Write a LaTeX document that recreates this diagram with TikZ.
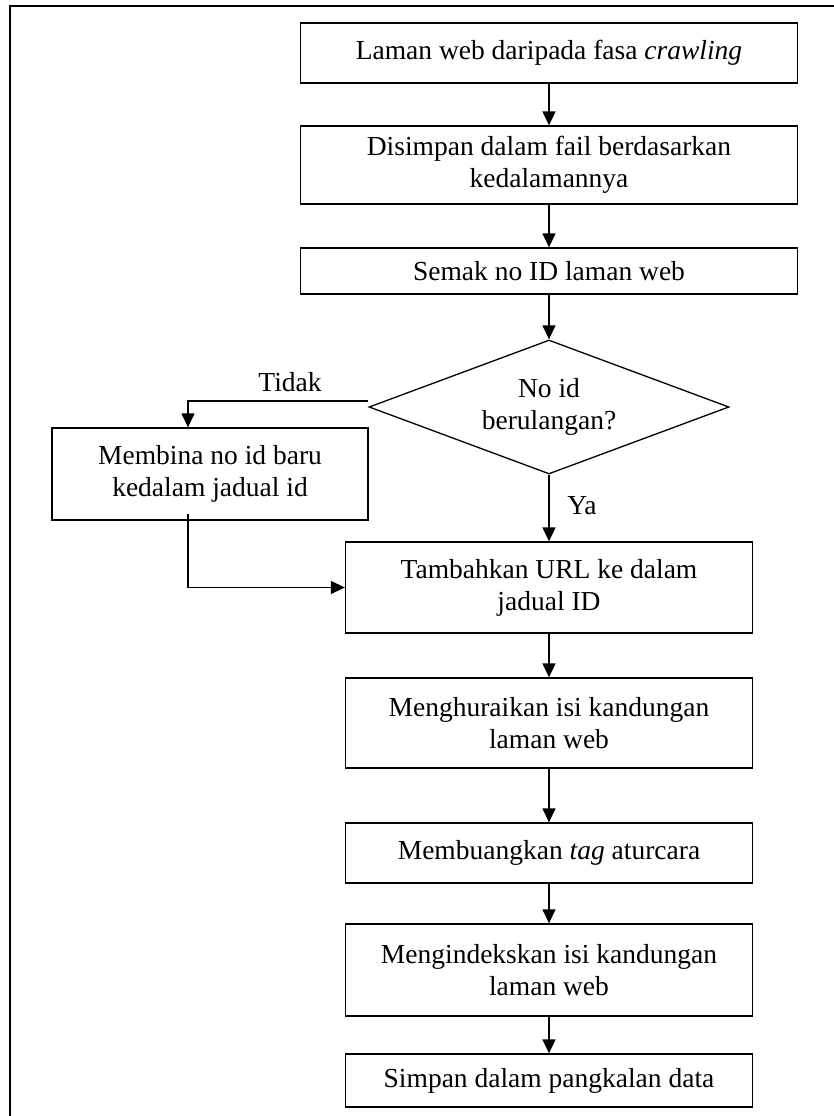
\documentclass[tikz,border=0pt]{standalone}
\usepackage{fontspec}
\setmainfont{Liberation Serif}
\usetikzlibrary{positioning,arrows.meta,shapes.geometric}

\tikzset{
  box/.style={draw, rectangle, line width=1.3pt, inner sep=2pt, align=center,
    font=\fontsize{27.5}{32}\selectfont},
  wide/.style={box, minimum width=497pt},
  narrow/.style={box, minimum width=407pt},
  decide/.style={draw, diamond, line width=1.3pt, inner sep=0pt, aspect=2.69,
    minimum width=360pt, minimum height=134pt, align=center,
    font=\fontsize{27.5}{32}\selectfont},
  lbl/.style={font=\fontsize{27.5}{32}\selectfont},
  arr/.style={line width=1.3pt, -{Triangle[length=14pt,width=13pt]}}
}

\begin{document}
\begin{tikzpicture}[x=1pt, y=-1pt]
        \useasboundingbox (0,0) rectangle (834,1116);
        % outer frame (right and bottom edges fall off the page)
        \draw[line width=1.6pt] (840,6) -- (10,6) -- (10,1122);

        \node[wide, minimum height=60pt] (b1) at (549,53) {Laman web daripada fasa \textit{crawling}};
        \node[wide, minimum height=78pt] (b2) at (549,165) {Disimpan dalam fail berdasarkan\\ kedalamannya};
        \node[wide, minimum height=46pt] (b3) at (549,271) {Semak no ID laman web};

        \node[decide] (dia) at (549,407) {No id\\ berulangan?};

        \node[box, minimum width=316pt, minimum height=92pt] (b4) at (210,474) {Membina no id baru\\ kedalam jadual id};

        \node[narrow, minimum height=91pt] (b5) at (549,587.5) {Tambahkan URL ke dalam\\ jadual ID};
        \node[narrow, minimum height=90pt] (b6) at (549,723) {Menghuraikan isi kandungan\\ laman web};
        \node[narrow, minimum height=60pt] (b7) at (549,853) {Membuangkan \textit{tag} aturcara};
        \node[narrow, minimum height=92pt] (b8) at (549,970) {Mengindekskan isi kandungan\\ laman web};
        \node[narrow, minimum height=53pt] (b9) at (549,1080.5) {Simpan dalam pangkalan data};

        \node[lbl] (tidak) at (290,382) {Tidak};
        \node[lbl] (ya) at (582,506) {Ya};

        \coordinate (tk) at (188,401);

        \draw[arr] (b1) -- (b2);
        \draw[arr] (b2) -- (b3);
        \draw[arr] (b3) -- (dia);
        \draw[arr] (dia) -- (b5);
        \draw[arr] ([yshift=6pt]dia.west) -| (tk |- b4.north);
        \draw[arr] ([yshift=7pt]tk |- b4.south) |- (b5.west);
        \draw[arr] (b5) -- (b6);
        \draw[arr] (b6) -- (b7);
        \draw[arr] (b7) -- (b8);
        \draw[arr] (b8) -- (b9);
\end{tikzpicture}
\end{document}
